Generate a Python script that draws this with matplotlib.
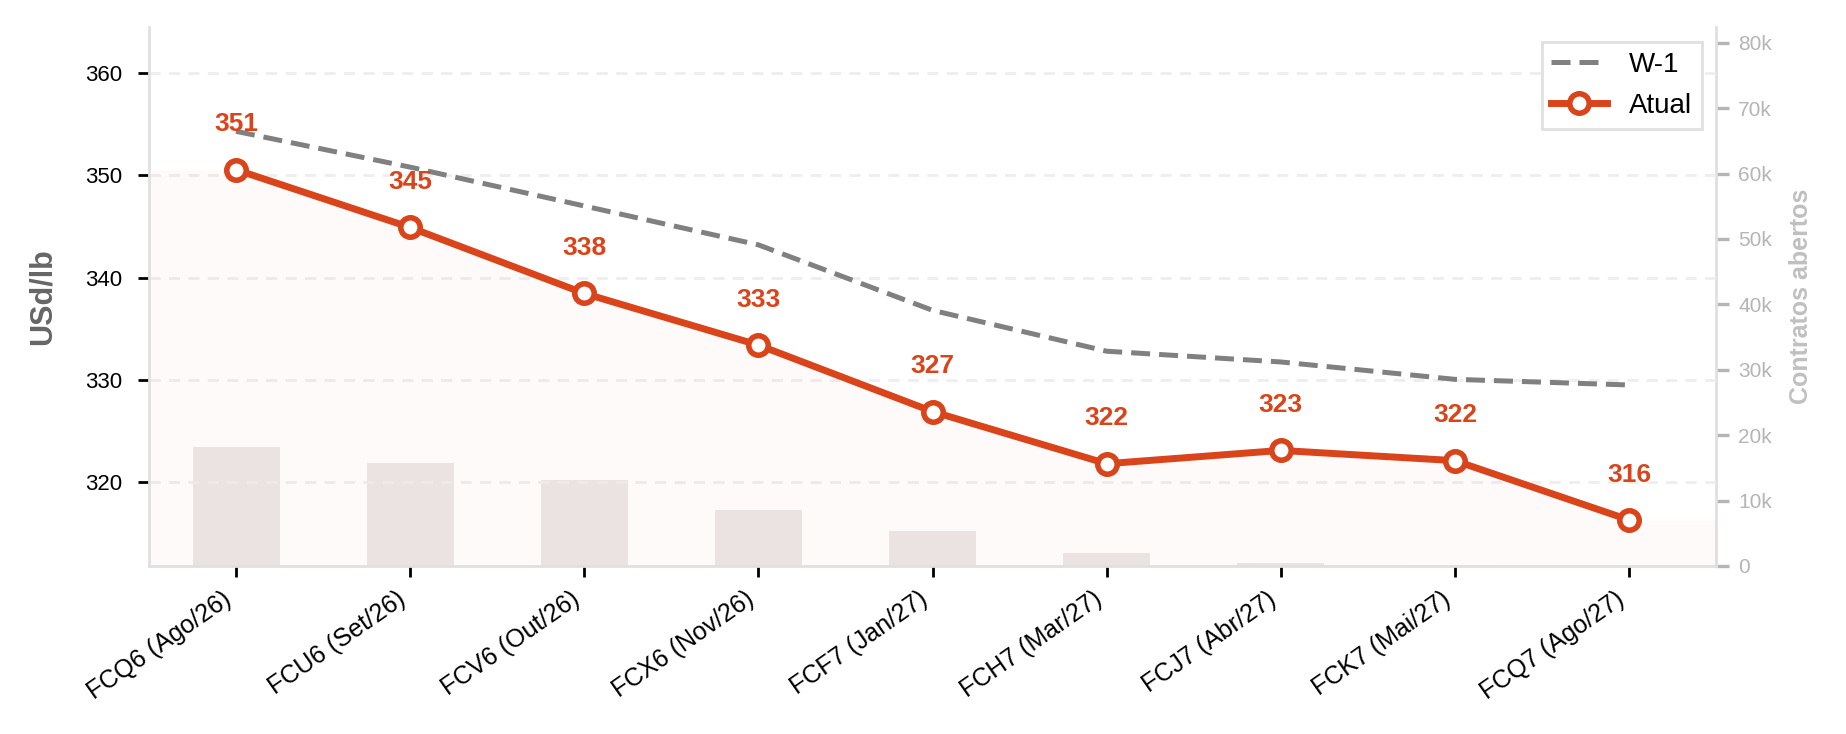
"""Curva de futuros FC: atual vs semana anterior, com contratos abertos ao fundo."""

import numpy as np
import matplotlib
matplotlib.use("Agg")
import matplotlib.pyplot as plt
from matplotlib.ticker import FuncFormatter

plt.rcParams["font.family"] = ["Liberation Sans", "DejaVu Sans"]

contracts = [
    "FCQ6 (Ago/26)", "FCU6 (Set/26)", "FCV6 (Out/26)", "FCX6 (Nov/26)",
    "FCF7 (Jan/27)", "FCH7 (Mar/27)", "FCJ7 (Abr/27)", "FCK7 (Mai/27)",
    "FCQ7 (Ago/27)",
]
atual = [350.55, 344.9, 338.45, 333.4, 326.9, 321.8, 323.1, 322.1, 316.3]
w1 = [354.3, 350.8, 347.0, 343.2, 336.8, 332.8, 331.75, 330.05, 329.5]
open_interest = [18200, 15750, 13100, 8560, 5350, 2000, 450, 120, 60]

ORANGE = "#d9441a"
GRAY = "#808080"
SPINE = "#e0e0e0"


def k_fmt(v, _pos):
    return "0" if v == 0 else f"{v / 1000:.0f}k"


fig = plt.figure(figsize=(9.23, 3.67), dpi=200)
ax = fig.add_axes([0.0807, 0.2289, 0.8489, 0.7343])
ax2 = ax.twinx()
ax.set_zorder(ax2.get_zorder() + 1)
ax.patch.set_visible(False)

x = np.arange(len(contracts))

# open interest bars on the right axis
ax2.bar(x, open_interest, width=0.5, color="#ebe7e6", zorder=1)
ax2.set_ylim(0, 82400)
ax2.yaxis.set_major_formatter(FuncFormatter(k_fmt))
ax2.tick_params(axis="y", colors="#b5b5b5", labelsize=7.5, length=4.5, width=1.2)
ax2.set_ylabel("Contratos abertos", color="#c0c0c0", fontsize=9,
               fontweight="bold", labelpad=6)

# light fill under the current curve, extended to the axes edges
ymin, ymax = 311.8, 364.5
xf = np.r_[-0.5, x, len(x) - 0.5]
yf = np.r_[atual[0], atual, atual[-1]]
ax.fill_between(xf, yf, ymin, color=ORANGE, alpha=0.025, lw=0, zorder=1)

ax.plot(x, w1, color=GRAY, lw=1.8, ls=(0, (3.8, 1.8)), label="W-1", zorder=3)
ax.plot(x, atual, color=ORANGE, lw=2.5, marker="o", ms=7, mfc="white",
        mec=ORANGE, mew=2, label="Atual", zorder=4)

for xi, yi in zip(x, atual):
    ax.annotate(f"{yi:.0f}", (xi, yi), xytext=(0, 12), textcoords="offset points",
                ha="center", va="bottom", color=ORANGE, fontsize=9.5,
                fontweight="bold", zorder=5)

ax.set_xlim(-0.5, len(x) - 0.5)
ax.set_ylim(ymin, ymax)
ax.set_yticks([320, 330, 340, 350, 360])
ax.set_xticks(x)
ax.set_xticklabels(contracts, rotation=35, ha="right", fontsize=9)
ax.tick_params(axis="both", length=4, width=1)
ax.tick_params(axis="y", labelsize=8, pad=5.5)
ax.set_ylabel("USd/lb", color="#666666", fontsize=11, fontweight="bold",
              labelpad=10)

ax.grid(axis="y", color="#eeeeee", lw=1, ls=(0, (4, 3)), zorder=0)
ax.set_axisbelow(True)

for a in (ax, ax2):
    a.spines["top"].set_visible(False)
    for s in ("left", "bottom", "right"):
        a.spines[s].set_color(SPINE)
        a.spines[s].set_linewidth(1)
ax.spines["right"].set_visible(False)
ax2.spines["left"].set_visible(False)
ax2.spines["bottom"].set_visible(False)

leg = ax.legend(loc="upper right", fontsize=10, fancybox=False, framealpha=1,
                edgecolor=SPINE, borderpad=0.35, labelspacing=0.55,
                handlelength=2.0, borderaxespad=0,
                bbox_to_anchor=(0.991, 0.972))
leg.get_frame().set_linewidth(1)

fig.savefig("out.png", dpi=200)
